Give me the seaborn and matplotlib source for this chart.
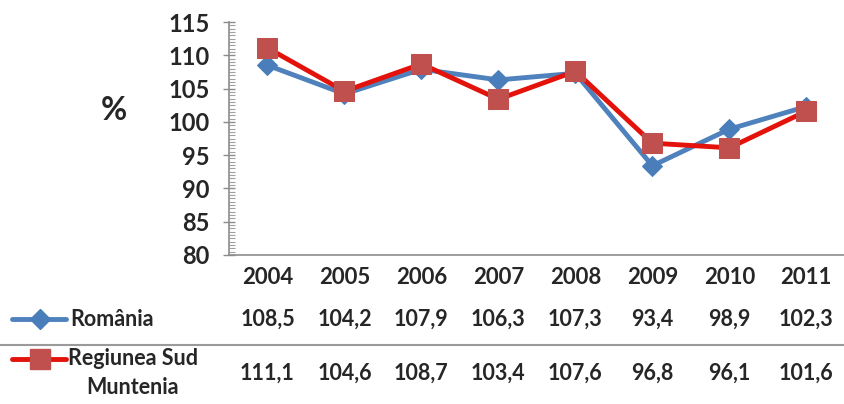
import matplotlib
matplotlib.use("Agg")
import matplotlib.pyplot as plt
import matplotlib.transforms as mtransforms
from matplotlib.lines import Line2D
from matplotlib.ticker import MultipleLocator
import seaborn as sns
import pandas as pd

# date
ani = ['2004', '2005', '2006', '2007', '2008', '2009', '2010', '2011']
romania = [108.5, 104.2, 107.9, 106.3, 107.3, 93.4, 98.9, 102.3]
sud_muntenia = [111.1, 104.6, 108.7, 103.4, 107.6, 96.8, 96.1, 101.6]
serii = ['România', 'Regiunea Sud\nMuntenia']

sns.set_style('white')
plt.rcParams['font.family'] = ['Lato', 'DejaVu Sans']
plt.rcParams['font.weight'] = 'bold'

df = pd.DataFrame({'an': list(range(len(ani))) * 2,
                   'valoare': romania + sud_muntenia,
                   'serie': [serii[0]] * len(ani) + [serii[1]] * len(ani)})

W, H = 844, 404
fig = plt.figure(figsize=(W / 100, H / 100), dpi=100)
ax = fig.add_axes([229 / W, 1 - 255 / H, (844 - 229) / W, (255 - 22) / H])

blue_line, blue_mk = '#4F81BD', '#4A7EBB'
red_line, red_mk = '#E3120B', '#C0504D'

sns.lineplot(data=df[df.serie == serii[0]], x='an', y='valoare', ax=ax,
             color=blue_line, linewidth=3.5, marker='D', markersize=10,
             markerfacecolor=blue_mk, markeredgecolor=blue_mk, legend=False)
sns.lineplot(data=df[df.serie == serii[1]], x='an', y='valoare', ax=ax,
             color=red_line, linewidth=3.5, marker='s', markersize=14,
             markerfacecolor=red_mk, markeredgecolor=red_mk, legend=False)

ax.set_xlim(-0.5, 7.49)
ax.set_ylim(80, 115)
ax.yaxis.set_major_locator(MultipleLocator(5))
ax.yaxis.set_minor_locator(MultipleLocator(0.5))
ax.set_xticks(range(len(ani)))
ax.set_xticklabels(ani)
ax.tick_params(axis='y', which='major', direction='inout', length=8, width=1,
               color='#8c8c8c', labelsize=17, pad=10, left=True)
ax.tick_params(axis='y', which='minor', direction='in', length=4, width=0.8,
               color='#a0a0a0', left=True)
ax.tick_params(axis='x', length=0, labelsize=16, pad=9)
ax.set_xlabel('')
ax.set_ylabel('')
for s in ['top', 'right']:
    ax.spines[s].set_visible(False)
for s in ['left', 'bottom']:
    ax.spines[s].set_color('#8c8c8c')
    ax.spines[s].set_linewidth(1.2)

fig.text(114 / W, 1 - 110 / H, '%', fontsize=23, ha='center', va='center')

# tabel de date
tr = mtransforms.blended_transform_factory(ax.transData, fig.transFigure)
rows_y = [1 - 319 / H, 1 - 373 / H]
for vals, yy in zip([romania, sud_muntenia], rows_y):
    for i, v in enumerate(vals):
        ax.text(i, yy, f'{v:.1f}'.replace('.', ','), transform=tr,
                ha='center', va='center', fontsize=15.5, clip_on=False)

fig.text(70 / W, 1 - 319 / H, serii[0], fontsize=15.5, ha='left', va='center')
fig.text(133 / W, 1 - 373 / H, serii[1], fontsize=15.5, ha='center', va='center',
         multialignment='center', linespacing=1.45)

fig.add_artist(Line2D([12 / W, 66 / W], [1 - 319 / H] * 2, color=blue_line, lw=3.5,
                      transform=fig.transFigure))
fig.add_artist(Line2D([40 / W], [1 - 319 / H], marker='D', markersize=10, color=blue_mk,
                      transform=fig.transFigure))
fig.add_artist(Line2D([12 / W, 66 / W], [1 - 359 / H] * 2, color=red_line, lw=3.5,
                      transform=fig.transFigure))
fig.add_artist(Line2D([40 / W], [1 - 359 / H], marker='s', markersize=14, color=red_mk,
                      transform=fig.transFigure))
fig.add_artist(Line2D([0, 1], [1 - 345 / H] * 2, color='#9a9a9a', lw=1.5,
                      transform=fig.transFigure))

fig.savefig('out.png', dpi=100)
